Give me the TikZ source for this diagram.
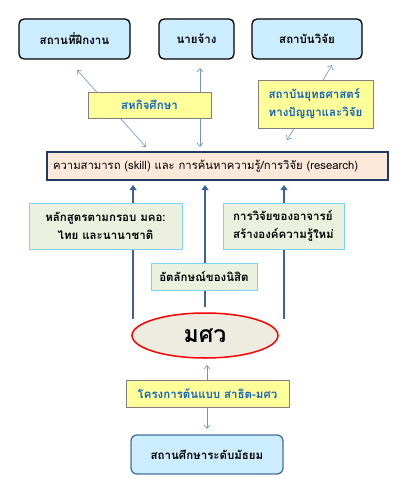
\documentclass[tikz,border=0pt]{standalone}
\usepackage{fontspec}
\setmainfont[Script=Thai]{Loma}
\usetikzlibrary{arrows.meta,shapes.geometric}
\definecolor{lblue}{HTML}{CCECFF}
\definecolor{yell}{HTML}{FFFF99}
\definecolor{peach}{HTML}{FDE9D9}
\definecolor{navy}{HTML}{1F3864}
\definecolor{lgreen}{HTML}{EBF1DE}
\definecolor{cyanb}{HTML}{7DD3F5}
\definecolor{thinar}{HTML}{6F93C6}
\definecolor{thickar}{HTML}{3F6296}
\definecolor{bluetxt}{HTML}{1060C0}
\definecolor{ellfill}{HTML}{EEECE1}
\definecolor{boxblue}{HTML}{41719C}
\begin{document}
\begin{tikzpicture}[x=1pt,y=-1pt,
  topbox/.style={draw=black, line width=1.3pt, fill=lblue, rounded corners=5pt, font=\fontsize{11.5}{14}\selectfont\bfseries},
  yellbox/.style={draw=gray, line width=0.8pt, fill=yell, text=bluetxt, font=\fontsize{11.5}{18}\selectfont\bfseries, align=center},
  greenbox/.style={draw=cyanb, line width=0.8pt, fill=lgreen, font=\fontsize{11.5}{18}\selectfont\bfseries},
  thin/.style={draw=thinar, line width=0.6pt, {Straight Barb[length=3.5pt,width=6pt]}-{Straight Barb[length=3.5pt,width=6pt]}},
  thick/.style={draw=thickar, line width=2.6pt, -{Triangle[length=5pt,width=7pt]}}]
\useasboundingbox (0,0) rectangle (414,490);
% top boxes
\node[topbox, minimum width=111pt, minimum height=40pt] (t1) at (74.5,39) {สถานที่ฝึกงาน};
\node[topbox, minimum width=75pt, minimum height=40pt] (t2) at (196.5,39) {นายจ้าง};
\node[topbox, minimum width=110pt, minimum height=40pt] (t3) at (307,39) {สถาบันวิจัย};
% skill box
\node[draw=navy, line width=1.3pt, fill=peach, text width=329pt, align=left, minimum height=28pt, inner xsep=6pt, inner ysep=0pt, font=\fontsize{11.3}{12}\selectfont] (sk) at (217.5,166) {ความสามารถ (skill) และ การค้นหาความรู้/การวิจัย (research)};
% thin double arrows
\coordinate (a1) at (77,70); \coordinate (b1) at (146,147);
\coordinate (a2) at (200,68); \coordinate (b2) at (200,147);
\coordinate (a3) at (332,65); \coordinate (b3) at (287,140);
\draw[thin] (a1) -- (b1);
\draw[thin] (a2) -- (b2);
\draw[thin] (a3) -- (b3);
% yellow boxes
\node[yellbox, minimum width=123pt, minimum height=26pt] (coop) at (149.5,105) {สหกิจศึกษา};
\node[yellbox, align=left, minimum width=115pt, minimum height=48pt, inner ysep=0pt] (inst) at (315.5,104) {สถาบันยุทธศาสตร์\\ทางปัญญาและวิจัย};
% thick arrows
\coordinate (s1) at (133,319); \coordinate (e1) at (133,185);
\coordinate (s2) at (205,307); \coordinate (e2) at (205,185);
\coordinate (s3) at (284,319); \coordinate (e3) at (284,185);
\draw[thick] (s1) -- (e1);
\draw[thick] (s2) -- (e2);
\draw[thick] (s3) -- (e3);
% green boxes
\node[greenbox, align=center, minimum width=153pt, minimum height=46pt, inner ysep=0pt] (cur) at (105.5,226) {หลักสูตรตามกรอบ มคอ:\\ไทย และนานาชาติ};
\node[greenbox, align=left, minimum width=121pt, minimum height=46pt, inner ysep=0pt] (res) at (283.5,226) {การวิจัยของอาจารย์\\สร้างองค์ความรู้ใหม่};
\node[greenbox, align=center, minimum width=106pt, minimum height=27pt] (iden) at (204,276.5) {อัตลักษณ์ของนิสิต};
% ellipse
\node[ellipse, draw=red, line width=1.5pt, fill=ellfill, minimum width=146pt, minimum height=45pt, inner sep=0pt, font=\fontsize{23}{25}\selectfont\bfseries] (swu) at (205,335.5) {มศว};
% bottom
\coordinate (a4) at (207,365); \coordinate (b4) at (207,429);
\draw[thin] (a4) -- (b4);
\node[yellbox, minimum width=163pt, minimum height=27pt] (proj) at (207.5,393.5) {โครงการต้นแบบ สาธิต-มศว};
\node[draw=boxblue, line width=1.3pt, fill=lblue, rounded corners=6pt, minimum width=152pt, minimum height=39pt, font=\fontsize{11.5}{14}\selectfont\bfseries] (sch) at (207,454.5) {สถานศึกษาระดับมัธยม};
\end{tikzpicture}
\end{document}
